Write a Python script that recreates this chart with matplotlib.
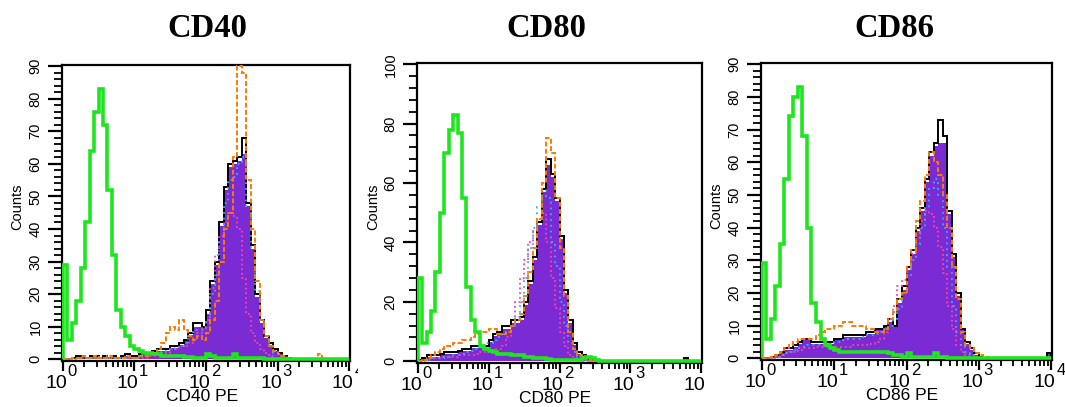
import numpy as np
import matplotlib
matplotlib.use('Agg')
import matplotlib.pyplot as plt
from matplotlib.ticker import LogLocator, MultipleLocator, NullFormatter
from matplotlib.transforms import Bbox, TransformedBbox

plt.rcParams['font.family'] = 'Liberation Sans'

# channels: 16 bins per decade, 10^0 .. 10^4
NBIN = 64
edges = 10 ** (np.arange(NBIN + 1) / 16)

titles = ['CD40', 'CD80', 'CD86']
xlabels = ['CD40 PE', 'CD80 PE', 'CD86 PE']
ymax = [90, 100, 90]
decades = [0, 1, 2, 3, 4]

# isotype control (green)
iso_cd40 = [29, 6, 11, 18, 28, 42, 64, 76, 83, 72, 52, 32, 15, 10, 7, 4,
            3, 2.5, 2, 2, 1.5, 1.5, 1, 1, 1, 1, 1, 0.8, 0.8, 0.5, 0.5, 0.5,
            1.5, 1, 0.5, 0.5, 0.5, 0.5, 1.5, 0.5, 0.3, 0.3, 0.3, 0.3, 0.3]
iso_cd80 = [28, 6, 10, 17, 30, 50, 70, 78, 83, 77, 55, 25, 14, 10, 5, 4,
            3.5, 3, 2.5, 2.5, 2.5, 2, 2, 2, 1.5, 1.5, 1, 1, 1, 0.8, 0.5, 0.5,
            0.5, 0.5, 0.5, 0.5, 0.5, 1, 1.5, 1, 0.5]
iso_cd86 = [29, 6, 12, 22, 35, 55, 74, 80, 83, 68, 40, 17, 11, 6, 4, 3,
            2.5, 2, 2, 2, 2, 2, 2, 2, 2, 2, 2, 2, 1.5, 1, 1, 0.5,
            1.5, 0.5, 0.5, 0.5, 0.5, 0.5, 1.5, 0.5, 0.3]

# sample 1 (black outline)
blk_cd40 = [0, 0, 0.5, 1, 1, 0.5, 1, 1, 0.5, 1, 0.5, 1, 0.5, 1, 1.5, 1,
            1, 1.5, 2, 2, 2.5, 3, 3, 3, 4, 4, 5, 6, 8, 11, 11, 10,
            15, 24, 30, 42, 53, 60, 61, 62, 68, 48, 35, 20, 12, 7, 5, 3,
            2, 1, 0.5]
blk_cd80 = [0.5, 1, 2, 2, 2, 2.5, 3, 3, 3, 3.5, 4, 4, 5, 5, 5, 5,
            7, 9, 10, 12, 12, 14, 14, 15, 20, 27, 35, 47, 58, 68, 63, 55,
            42, 24, 14, 6, 3, 2, 1, 0.5, 0, 0, 0, 0, 0, 0, 0, 0,
            0, 0, 0, 0, 0, 0, 0, 0, 0, 0, 0, 0, 1]
blk_cd86 = [0, 0, 0.5, 1, 2, 3, 3, 4, 5, 6, 6, 5, 5, 5, 5, 5,
            6, 6, 7, 7, 7, 7, 7, 8, 8, 9, 9, 10, 12, 10, 18, 22,
            28, 33, 40, 46, 55, 63, 66, 73, 68, 45, 32, 20, 9, 5, 3, 1.5,
            0.5, 0, 0, 0, 0, 0, 0, 0, 0, 0, 0, 0, 0, 0, 0, 1.5]

# sample 2 (purple filled)
pur_cd40 = [0, 0, 0.3, 0.6, 0.6, 0.3, 0.6, 0.6, 0.3, 0.6, 0.3, 0.6, 0.3, 0.6, 1, 0.6,
            0.6, 1, 1.5, 1.5, 2, 2.5, 2.5, 2.5, 3.5, 3.5, 4.5, 5.5, 7.5, 10, 10, 9.5,
            14, 23, 29, 41, 52, 59, 60, 61, 63, 47, 34, 19, 11, 6.5, 4.5, 2.5,
            1.5, 0.6, 0.3]
pur_cd80 = [0.3, 0.6, 1.5, 1.5, 1.5, 2, 2.5, 2.5, 2.5, 3, 3.5, 3.5, 4.5, 4.5, 4.5, 4.5,
            6.5, 8.5, 9.5, 11, 11, 13, 13, 14, 19, 26, 34, 46, 57, 66, 62, 54,
            41, 23, 13, 5.5, 2.5, 1.5, 0.6, 0.3, 0, 0, 0, 0, 0, 0, 0, 0,
            0, 0, 0, 0, 0, 0, 0, 0, 0, 0, 0, 0, 1]
pur_cd86 = [0, 0, 0.3, 0.6, 1.5, 2.5, 2.5, 3.5, 4.5, 5.5, 5.5, 4.5, 4.5, 4.5, 4.5, 4.5,
            5.5, 5.5, 6.5, 6.5, 6.5, 6.5, 6.5, 7.5, 7.5, 8.5, 8.5, 9.5, 11, 9.5, 17, 21,
            27, 32, 39, 45, 54, 62, 65, 66, 66, 44, 31, 19, 8.5, 4.5, 2.5, 1,
            0.3, 0, 0, 0, 0, 0, 0, 0, 0, 0, 0, 0, 0, 0, 0, 1.5]

# sample 3 (orange dashed)
org_cd40 = [0, 0, 0.5, 0.5, 1, 0.5, 0.5, 1, 0.5, 0.5, 1, 0.5, 0.5, 0.5, 1, 0.5,
            0.5, 1, 1, 1.5, 2, 3, 5, 8, 10, 9, 12, 9, 7, 6, 7, 6,
            8, 12, 18, 30, 40, 45, 62, 90, 88, 55, 40, 24, 12, 7, 4, 2.5,
            1.5, 1, 0.5, 0, 0, 0, 0, 0, 0, 1.5]
org_cd80 = [0, 0.5, 1, 2, 3, 4, 5, 5, 6, 6, 7, 7, 8, 9, 10, 10,
            11, 11, 9, 9, 10, 12, 14, 16, 22, 30, 38, 48, 60, 75, 70, 55,
            38, 22, 10, 4, 2, 1, 0.5]
org_cd86 = [0, 0, 0.5, 1, 2, 3, 4, 5, 6, 6, 6, 6, 7, 8, 9, 9,
            10, 10, 11, 11, 10, 10, 10, 9, 9, 8, 8, 9, 12, 14, 18, 20,
            28, 33, 42, 48, 56, 63, 60, 56, 50, 40, 28, 18, 8, 4, 3, 1.5,
            1, 0.5]

# sample 4 (pink dotted)
pnk_cd40 = [0, 0, 0.5, 0.5, 0.5, 0.5, 0.5, 0.5, 0.5, 0.5, 0.5, 0.5, 0.5, 0.5, 0.5, 0.5,
            0.5, 0.5, 0.5, 1, 1, 1.5, 2, 2, 3, 3, 4, 4, 5, 6, 8, 10,
            12, 22, 32, 38, 42, 45, 44, 40, 25, 14, 8, 5, 3, 2, 1]
pnk_cd80 = [0, 0.5, 1, 1, 1, 1.5, 1.5, 1.5, 1.5, 2, 2, 2, 2, 2.5, 3, 3,
            3.5, 4, 4, 5, 8, 12, 20, 28, 34, 40, 44, 48, 50, 40, 28, 18,
            10, 5, 2, 1]
pnk_cd86 = [0, 0, 0, 0.5, 1, 1.5, 2, 2, 2.5, 3, 3, 3, 3.5, 3.5, 3.5, 3.5,
            3.5, 3.5, 3.5, 3.5, 4, 4, 4, 4, 4.5, 5, 6, 8, 12, 16, 22, 24,
            28, 32, 38, 42, 45, 44, 40, 34, 26, 16, 9, 4, 2, 1]

# sample 5 (blue dotted)
blu_cd40 = [0, 0, 0, 0.5, 0.5, 0.5, 0.5, 0.5, 0.5, 0.5, 0.5, 0.5, 0.5, 0.5, 0.5, 0.5,
            0.5, 1, 1, 1.5, 2, 2, 2.5, 2.5, 3, 3.5, 4, 5, 7, 9, 9, 9,
            12, 20, 26, 36, 48, 55, 56, 60, 62, 47, 34, 21, 12, 7, 4, 2,
            1]
blu_cd80 = [0, 0, 0.5, 1, 1, 1, 1.5, 1.5, 2, 2, 2.5, 3, 3.5, 4, 5, 6,
            6, 7, 8, 9, 10, 12, 15, 20, 28, 38, 45, 52, 58, 55, 40, 32,
            20, 12, 6, 3, 1]
blu_cd86 = [0, 0, 0, 0.5, 1, 1.5, 2, 2.5, 3, 3.5, 4, 4, 4, 4, 4.5, 4.5,
            5, 5, 5.5, 6, 6, 6, 6.5, 7, 7, 7.5, 8, 9, 10, 12, 15, 20,
            25, 30, 35, 40, 46, 52, 55, 50, 40, 28, 16, 8, 4, 2, 1]

iso = [iso_cd40, iso_cd80, iso_cd86]
blk = [blk_cd40, blk_cd80, blk_cd86]
pur = [pur_cd40, pur_cd80, pur_cd86]
org = [org_cd40, org_cd80, org_cd86]
pnk = [pnk_cd40, pnk_cd80, pnk_cd86]
blu = [blu_cd40, blu_cd80, blu_cd86]


def full(v):
    v = np.asarray(v, dtype=float)
    return np.pad(v, (0, NBIN - len(v)))


W, H = 1065, 407
fig = plt.figure(figsize=(W / 100, H / 100), dpi=100)

# axes boxes in pixels: left, top, right, bottom
boxes = [(62, 65, 350, 361), (417, 63, 702, 363), (761, 63, 1052, 360)]
title_x = [207, 546, 894]
clip_right = [358, 704, None]

for i in range(3):
    l, t, r, b = boxes[i]
    ax = fig.add_axes([l / W, 1 - b / H, (r - l) / W, (b - t) / H])

    ax.stairs(full(pur[i]), edges, fill=True, color='#7a2bd3', lw=0, zorder=1)
    ax.stairs(full(blk[i]), edges, color='black', lw=1.4, zorder=2)
    ax.stairs(full(pnk[i]), edges, color='#ff3fa6', lw=1.3, ls=(0, (1, 1.6)), zorder=3)
    ax.stairs(full(blu[i]), edges, color='#2fb0ff', lw=1.3, ls=(0, (1, 2.2)), zorder=3)
    ax.stairs(full(org[i]), edges, color='#ff7a00', lw=1.4, ls=(0, (2.5, 1.2)), zorder=4)
    ax.stairs(full(iso[i]), edges, color='#1ee61e', lw=2.6, zorder=5)

    ax.set_xscale('log')
    ax.set_xlim(10 ** -0.01, 10 ** 4.01)
    ax.set_ylim(-0.006 * ymax[i], ymax[i] * 1.004)

    ax.xaxis.set_major_locator(LogLocator(10))
    ax.xaxis.set_minor_locator(LogLocator(10, subs=range(2, 10)))
    ax.xaxis.set_major_formatter(NullFormatter())
    ax.xaxis.set_minor_formatter(NullFormatter())
    step = 20 if ymax[i] == 100 else 10
    ax.yaxis.set_major_locator(MultipleLocator(step))
    ax.yaxis.set_minor_locator(MultipleLocator(step / 5))

    ax.tick_params(axis='x', which='major', length=7, width=1.6)
    ax.tick_params(axis='x', which='minor', length=4, width=1.3)
    ax.tick_params(axis='y', which='major', length=10, width=1.6, labelsize=10.5,
                   labelrotation=90, pad=4)
    ax.tick_params(axis='y', which='minor', length=6, width=1.3)
    for lab in ax.get_yticklabels():
        lab.set_va('center')

    for s in ax.spines.values():
        s.set_linewidth(1.6)

    # decade labels: "10" with a raised exponent
    if clip_right[i] is not None:
        cb = TransformedBbox(Bbox([[0, 0], [clip_right[i] / W, 1]]), fig.transFigure)
    else:
        cb = None
    for k in decades:
        base = ax.annotate('10', xy=(10 ** k, 0), xycoords=('data', 'axes fraction'),
                           xytext=(3, -10), textcoords='offset points',
                           ha='right', va='top', fontsize=14)
        sup = ax.annotate(str(k), xy=(10 ** k, 0), xycoords=('data', 'axes fraction'),
                          xytext=(3.5, -2), textcoords='offset points',
                          ha='left', va='top', fontsize=12)
        if cb is not None:
            for txt in (base, sup):
                txt.set_clip_box(cb)
                txt.set_clip_on(True)

    ax.set_xlabel(xlabels[i], fontsize=12.5, va='top')
    ax.xaxis.set_label_coords(0.485, -0.093)
    ax.set_ylabel('Counts', fontsize=10.5)
    ax.yaxis.set_label_coords(-0.13, 0.52)

    fig.text(title_x[i] / W, 1 - 37 / H, titles[i], ha='center', va='baseline',
             fontsize=23.5, fontweight='bold', family='Liberation Serif')

fig.savefig('out.png', dpi=100)
